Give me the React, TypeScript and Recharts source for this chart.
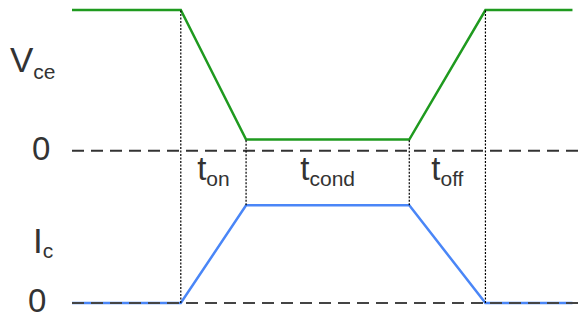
import { LineChart, Line, XAxis, YAxis, ReferenceLine, ReferenceArea } from 'recharts';

// switching waveform: time in arbitrary units
const times = [0, 5, 8, 15.5, 19, 23];
const vce = [1, 1, 0.08, 0.08, 1, 1];
const ic = [0, 0, 1, 1, 0, 0];

const phaseNames = [
  { x1: 5, x2: 8, main: 't', sub: 'on' },
  { x1: 8, x2: 15.5, main: 't', sub: 'cond' },
  { x1: 15.5, x2: 19, main: 't', sub: 'off' },
];

const vDomain: [number, number] = [-1.08, 1];
const iDomain: [number, number] = [0, 3];

const data = times.map((t, i) => ({ t, vce: vce[i], ic: ic[i] }));

// express a Vce-axis value on the Ic axis (same plot height)
const vToI = (v: number) =>
  ((v - vDomain[0]) / (vDomain[1] - vDomain[0])) * (iDomain[1] - iDomain[0]) + iDomain[0];

const FONT = '"Liberation Sans", Arial, sans-serif';
const TEXT = '#333';
const DOT = { stroke: '#000', strokeWidth: 1.2, strokeDasharray: '2 1.5' };

const SignalLabel = ({ viewBox, main, sub, up, zeroX }: any) => {
  const { y } = viewBox;
  return (
    <g fontFamily={FONT} fill={TEXT}>
      <text x={zeroX} y={y + 9} fontSize={33}>0</text>
      <text x={main === 'V' ? 10 : 33} y={y - up} fontSize={35}>
        {main}
        <tspan fontSize={21} dy={main === 'V' ? 7 : 5}>{sub}</tspan>
      </text>
    </g>
  );
};

const PhaseLabel = ({ viewBox, main, sub }: any) => {
  const { x, y, width, height } = viewBox;
  return (
    <text x={x + width / 2} y={y + height / 2 + 2} textAnchor="middle" fontFamily={FONT} fill={TEXT} fontSize={33}>
      {main}
      <tspan fontSize={21} dy={6}>{sub}</tspan>
    </text>
  );
};

export default function App() {
  const vLowI = vToI(vce[2]);
  const vZeroI = vToI(0);
  return (
    <div style={{ position: 'absolute', left: 0, top: 0, background: '#fff' }}>
      <LineChart width={579} height={320} data={data} margin={{ top: 10, right: 0, bottom: 17, left: 72 }}>
        <XAxis dataKey="t" type="number" domain={[0, 23.3]} hide />
        <YAxis yAxisId="v" domain={vDomain} hide />
        <YAxis yAxisId="i" domain={iDomain} hide />

        <Line yAxisId="v" dataKey="vce" type="linear" stroke="#1f9a1f" strokeWidth={2.5} dot={false} isAnimationActive={false} />
        <Line yAxisId="i" dataKey="ic" type="linear" stroke="#4a86f7" strokeWidth={2.5} dot={false} isAnimationActive={false} />

        <ReferenceLine
          yAxisId="v"
          y={0}
          stroke="#333"
          strokeWidth={2}
          strokeDasharray="12 7"
          label={<SignalLabel main="V" sub="ce" up={79} zeroX={32} />}
        />
        <ReferenceLine
          yAxisId="i"
          y={0}
          stroke="#444"
          strokeWidth={2}
          strokeDasharray="12 7"
          label={<SignalLabel main="I" sub="c" up={50} zeroX={28} />}
        />

        <ReferenceLine yAxisId="i" x={times[1]} {...DOT} />
        <ReferenceLine yAxisId="i" x={times[4]} {...DOT} />
        <ReferenceLine yAxisId="i" segment={[{ x: times[2], y: 1 }, { x: times[2], y: vLowI }]} {...DOT} />
        <ReferenceLine yAxisId="i" segment={[{ x: times[3], y: 1 }, { x: times[3], y: vLowI }]} {...DOT} />

        {phaseNames.map((p) => (
          <ReferenceArea
            key={p.sub}
            yAxisId="i"
            x1={p.x1}
            x2={p.x2}
            y1={1}
            y2={vZeroI}
            fill="none"
            stroke="none"
            label={<PhaseLabel main={p.main} sub={p.sub} />}
          />
        ))}
      </LineChart>
    </div>
  );
}
